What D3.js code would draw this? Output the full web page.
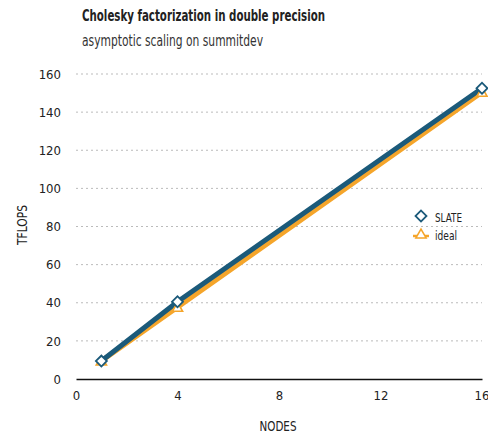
<!DOCTYPE html>
<html><head><meta charset="utf-8">
<script src="https://cdn.jsdelivr.net/npm/d3@7"></script>
<style>
body{margin:0;background:#fff;}
text{font-family:"DejaVu Sans Condensed","Liberation Sans Narrow",sans-serif;}
</style></head><body>
<svg id="c" width="488" height="436"></svg>
<script>
const nodes = [1, 4, 16];
const slate = [9.4, 40.5, 152.5];
const ideal = [9.4, 37.6, 150.4];
const xTicks = [0, 4, 8, 12, 16];
const yTicks = [0, 20, 40, 60, 80, 100, 120, 140, 160];

const svg = d3.select("#c");
const x = d3.scaleLinear().domain([0,16]).range([76,482]);
const y = d3.scaleLinear().domain([0,160]).range([379,74]);
const blue = "#1b5a7a", orange = "#f5a52a";
const ff = '"DejaVu Sans Condensed","Liberation Sans Narrow",sans-serif';

svg.append("text").attr("x",82).attr("y",21).attr("font-size",15.5).attr("font-weight","bold").attr("fill","#222")
  .attr("textLength",243).attr("lengthAdjust","spacingAndGlyphs").text("Cholesky factorization in double precision");
svg.append("text").attr("x",82).attr("y",46).attr("font-size",15).attr("fill","#333")
  .attr("textLength",181).attr("lengthAdjust","spacingAndGlyphs").text("asymptotic scaling on summitdev");

// grid
svg.append("g").selectAll("line").data(yTicks.filter(d=>d>0)).join("line")
  .attr("x1",76).attr("x2",482).attr("y1",d=>y(d)).attr("y2",d=>y(d))
  .attr("stroke","#bbb").attr("stroke-dasharray","2,3").attr("stroke-width",1);

const ya = svg.append("g").attr("transform","translate(76,0)").call(d3.axisLeft(y).tickValues(yTicks).tickSize(0).tickPadding(15));
ya.select(".domain").remove();
ya.selectAll("text").attr("font-size",13).attr("fill","#222").style("font-family",ff);

const xa = svg.append("g").attr("transform","translate(0,379)").call(d3.axisBottom(x).tickValues(xTicks).tickSize(0).tickPadding(12));
xa.select(".domain").attr("stroke","#111").attr("stroke-width",1.5);
xa.selectAll("text").attr("font-size",13).attr("fill","#222").style("font-family",ff);
xa.selectAll(".tick").filter(d=>d===16).select("text").attr("text-anchor","end").attr("dx",7);

svg.append("text").attr("transform","translate(27,225) rotate(-90)").attr("text-anchor","middle").attr("font-size",13.5).attr("fill","#222")
  .attr("textLength",40).attr("lengthAdjust","spacingAndGlyphs").text("TFLOPS");
svg.append("text").attr("x",278).attr("y",431).attr("text-anchor","middle").attr("font-size",13.5).attr("fill","#222")
  .attr("textLength",37).attr("lengthAdjust","spacingAndGlyphs").text("NODES");

const line = d3.line().x(d=>x(d[0])).y(d=>y(d[1]));
const idealPts = nodes.map((n,i)=>[n,ideal[i]]);
const slatePts = nodes.map((n,i)=>[n,slate[i]]);
svg.append("path").datum(idealPts).attr("d",line).attr("fill","none").attr("stroke",orange).attr("stroke-width",5);
svg.append("path").datum(slatePts).attr("d",line).attr("fill","none").attr("stroke",blue).attr("stroke-width",5);

const tri = d3.symbol().type(d3.symbolTriangle).size(45);
const dia = d3.symbol().type(d3.symbolSquare).size(60);
svg.append("g").selectAll("path").data(idealPts).join("path")
  .attr("d",tri).attr("transform",d=>`translate(${x(d[0])},${y(d[1])+1})`)
  .attr("fill","#fff").attr("stroke",orange).attr("stroke-width",1.6);
svg.append("g").selectAll("path").data(slatePts).join("path")
  .attr("d",dia).attr("transform",d=>`translate(${x(d[0])},${y(d[1])}) rotate(45)`)
  .attr("fill","#fff").attr("stroke",blue).attr("stroke-width",1.8);

// legend
const lg = svg.append("g");
lg.append("path").attr("d",dia).attr("transform","translate(421,216) rotate(45)").attr("fill","#fff").attr("stroke",blue).attr("stroke-width",1.8);
lg.append("line").attr("x1",413).attr("x2",429).attr("y1",236).attr("y2",236).attr("stroke",orange).attr("stroke-width",2.5);
lg.append("path").attr("d",tri).attr("transform","translate(421,235)").attr("fill","#fff").attr("stroke",orange).attr("stroke-width",1.6);
lg.append("text").attr("x",435).attr("y",222).attr("font-size",13).attr("fill","#222")
  .attr("textLength",27).attr("lengthAdjust","spacingAndGlyphs").text("SLATE");
lg.append("text").attr("x",435).attr("y",240).attr("font-size",13).attr("fill","#222")
  .attr("textLength",22).attr("lengthAdjust","spacingAndGlyphs").text("ideal");
</script></body></html>
